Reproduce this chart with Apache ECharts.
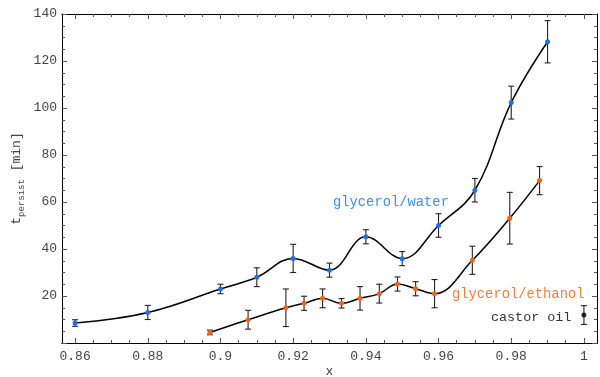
<!DOCTYPE html>
<html>
<head>
<meta charset="utf-8">
<script src="https://cdn.jsdelivr.net/npm/echarts@6/dist/echarts.min.js"></script>
<style>
  html, body { margin: 0; padding: 0; background: #fff; }
  #chart { width: 600px; height: 377px; }
</style>
</head>
<body>
<div id="chart"></div>
<script>
// glycerol/water mixtures
const waterX   = [0.86, 0.88, 0.90, 0.91, 0.92, 0.93, 0.94, 0.95, 0.96, 0.97, 0.98, 0.99];
const waterY   = [8.5, 13.0, 23.0, 28.0, 36.0, 31.0, 45.2, 35.9, 50.0, 65.0, 102.3, 128.2];
const waterErr = [1.4, 3.0, 2.0, 4.0, 6.0, 3.0, 3.0, 3.0, 5.0, 5.0, 7.0, 9.0];

// glycerol/ethanol mixtures
const ethX   = [0.8971, 0.9076, 0.9180, 0.9230, 0.9281, 0.9333, 0.9384, 0.9437, 0.9487, 0.9537, 0.9589, 0.9693, 0.9796, 0.9878];
const ethY   = [4.5, 9.9, 15.0, 16.9, 19.0, 16.9, 19.0, 21.0, 25.1, 23.1, 21.0, 35.2, 53.1, 69.1];
const ethErr = [1.0, 4.0, 8.0, 3.0, 4.0, 2.0, 5.0, 4.0, 3.0, 3.0, 6.0, 6.0, 11.0, 6.0];

// castor oil reference
const castorX = [1.0];
const castorY = [11.9];
const castorErr = [4.0];

// axis ticks
const xMajor = [0.86, 0.88, 0.90, 0.92, 0.94, 0.96, 0.98, 1.00];
const xMinor = [0.865, 0.87, 0.875, 0.885, 0.89, 0.895, 0.905, 0.91, 0.915, 0.925, 0.93, 0.935,
                0.945, 0.95, 0.955, 0.965, 0.97, 0.975, 0.985, 0.99, 0.995];
const xMin = 0.8564, xMax = 1.0036;

const FONT = '"Liberation Mono", "DejaVu Sans Mono", monospace';
const BLUE = '#1f6fe8';
const ORANGE = '#f2641e';

function zip3(a, b, c) { return a.map((v, i) => [v, b[i], c[i]]); }
function zip2(a, b) { return a.map((v, i) => [v, b[i]]); }

function errorBars(params, api) {
  const x = api.value(0), y = api.value(1), e = api.value(2);
  const top = api.coord([x, y + e]);
  const bot = api.coord([x, y - e]);
  const w = 3;
  const st = { stroke: '#222', lineWidth: 1.1 };
  return {
    type: 'group',
    children: [
      { type: 'line', shape: { x1: top[0], y1: top[1], x2: bot[0], y2: bot[1] }, style: st },
      { type: 'line', shape: { x1: top[0] - w, y1: top[1], x2: top[0] + w, y2: top[1] }, style: st },
      { type: 'line', shape: { x1: bot[0] - w, y1: bot[1], x2: bot[0] + w, y2: bot[1] }, style: st }
    ]
  };
}

function xAxisDef(position, values, len, showLabels) {
  return {
    type: 'value', position: position, min: xMin, max: xMax,
    axisLine: { show: true, onZero: false, lineStyle: { color: '#000', width: 1 } },
    splitLine: { show: false },
    axisTick: { show: true, inside: true, length: len, customValues: values, lineStyle: { color: '#555', width: 1 } },
    axisLabel: showLabels ? {
      show: true, customValues: values, margin: 7, color: '#444', fontFamily: FONT, fontSize: 13,
      formatter: v => String(+v.toFixed(2))
    } : { show: false }
  };
}

const chart = echarts.init(document.getElementById('chart'), null, { renderer: 'canvas' });

const bottomMajor = xAxisDef('bottom', xMajor, 5, true);
bottomMajor.name = 'x';
bottomMajor.nameLocation = 'middle';
bottomMajor.nameGap = 22;
bottomMajor.nameMoveOverlap = false;
bottomMajor.nameTextStyle = { fontFamily: FONT, fontSize: 13, color: '#444' };

chart.setOption({
  animation: false,
  backgroundColor: '#fff',
  grid: { left: 62, right: 3, top: 14, bottom: 34, containLabel: false, outerBoundsMode: 'none' },
  xAxis: [
    bottomMajor,
    xAxisDef('bottom', xMinor, 3, false),
    xAxisDef('top', xMajor, 5, false),
    xAxisDef('top', xMinor, 3, false)
  ],
  yAxis: [
    {
      type: 'value', position: 'left', min: 0, max: 140, interval: 20,
      axisLine: { show: true, onZero: false, lineStyle: { color: '#000', width: 1 } },
      splitLine: { show: false },
      axisTick: { show: true, inside: true, length: 5, lineStyle: { color: '#555' } },
      minorTick: { show: true, splitNumber: 4, length: 3, lineStyle: { color: '#555' } },
      axisLabel: {
        margin: 5, color: '#444', fontFamily: FONT, fontSize: 13,
        formatter: v => (v === 0 ? '' : String(v))
      },
      name: '{t|t}{s|persist}{t| [min]}',
      nameLocation: 'middle', nameGap: 36, nameRotate: 90, nameMoveOverlap: false,
      nameTextStyle: {
        fontFamily: FONT, color: '#444',
        rich: {
          t: { fontFamily: FONT, fontSize: 13, color: '#444' },
          s: { fontFamily: FONT, fontSize: 9, color: '#444', padding: [9, 0, 0, 0] }
        }
      }
    },
    {
      type: 'value', position: 'right', min: 0, max: 140, interval: 20,
      axisLine: { show: true, onZero: false, lineStyle: { color: '#000', width: 1 } },
      splitLine: { show: false },
      axisTick: { show: true, inside: true, length: 5, lineStyle: { color: '#555' } },
      minorTick: { show: true, splitNumber: 4, length: 3, lineStyle: { color: '#555' } },
      axisLabel: { show: false }
    }
  ],
  series: [
    {
      type: 'custom', name: 'water-err', renderItem: errorBars, z: 2,
      encode: { x: 0, y: 1 }, data: zip3(waterX, waterY, waterErr)
    },
    {
      type: 'custom', name: 'ethanol-err', renderItem: errorBars, z: 2,
      encode: { x: 0, y: 1 }, data: zip3(ethX, ethY, ethErr)
    },
    {
      type: 'custom', name: 'castor-err', renderItem: errorBars, z: 2,
      encode: { x: 0, y: 1 }, data: zip3(castorX, castorY, castorErr)
    },
    {
      type: 'line', name: 'glycerol/water', smooth: 0.4, z: 3,
      data: zip2(waterX, waterY),
      lineStyle: { color: '#000', width: 1.5 },
      symbol: 'circle', symbolSize: 5,
      itemStyle: { color: BLUE, borderWidth: 0 }
    },
    {
      type: 'line', name: 'glycerol/ethanol', smooth: 0.4, z: 3,
      data: zip2(ethX, ethY),
      lineStyle: { color: '#000', width: 1.5 },
      symbol: 'circle', symbolSize: 5,
      itemStyle: { color: ORANGE, borderWidth: 0 }
    },
    {
      type: 'scatter', name: 'castor oil', z: 3,
      data: zip2(castorX, castorY),
      symbol: 'circle', symbolSize: 5,
      itemStyle: { color: '#000' }
    }
  ],
  graphic: [
    { type: 'text', left: 333, top: 195, style: { text: 'glycerol/water', font: '13.8px ' + FONT, fill: '#3d8ef2' } },
    { type: 'text', left: 452, top: 287, style: { text: 'glycerol/ethanol', font: '13.8px ' + FONT, fill: '#ff7a3a' } },
    { type: 'text', left: 491, top: 311, style: { text: 'castor oil', font: '13.4px ' + FONT, fill: '#333' } }
  ]
});
</script>
</body>
</html>
